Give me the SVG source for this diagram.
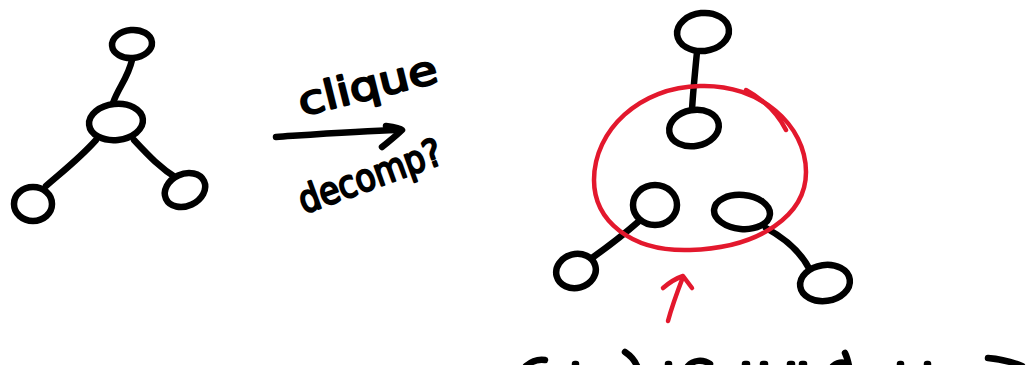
<svg xmlns="http://www.w3.org/2000/svg" width="1035" height="365" viewBox="0 0 1035 365">
  <style>
    .ink { fill: none; stroke: #000; stroke-width: 6.5; stroke-linecap: round; stroke-linejoin: round; }
    .red { fill: none; stroke: #e3182d; stroke-width: 4.5; stroke-linecap: round; stroke-linejoin: round; }
    .node { fill: #fff; stroke: #000; stroke-width: 6.5; }
    .hand { font-family: "DejaVu Sans", "Liberation Sans", sans-serif; font-weight: normal; fill: #000; stroke: #000; stroke-width: 2.2; stroke-linejoin: round; }
  </style>
  <rect width="1035" height="365" fill="#fff"/>

  <!-- edges -->
  <g id="connectors">
    <path class="ink" d="M132 60 C128 78 118 88 113 103"/>
    <path class="ink" d="M96 140 C80 158 62 172 46 186"/>
    <path class="ink" d="M134 140 C148 155 160 168 178 179"/>
    <path class="ink" d="M697 52 C695 72 693 92 692 110"/>
    <path class="ink" d="M638 222 C622 236 606 248 592 258"/>
    <path class="ink" d="M766 228 C788 240 802 254 810 270"/>
    <!-- transform arrow -->
    <path class="ink" stroke-width="7" d="M276 137 C320 134 360 131 398 130"/>
    <path class="ink" stroke-width="7" d="M386 126 C394 127 400 128 402 130 C396 136 388 142 382 147"/>
  </g>

  <!-- left graph -->
  <g id="l-top"><ellipse class="node" cx="132" cy="44" rx="20" ry="14" transform="rotate(-5 132 44)"/></g>
  <g id="l-center"><ellipse class="node" cx="116" cy="122" rx="27" ry="18" transform="rotate(-6 116 122)"/></g>
  <g id="l-left"><ellipse class="node" cx="33" cy="204" rx="19" ry="17"/></g>
  <g id="l-right"><ellipse class="node" cx="185" cy="190" rx="21" ry="16" transform="rotate(-25 185 190)"/></g>

  <!-- labels on the arrow -->
  <g id="label-clique"><text class="hand" font-size="40" transform="translate(302 116) rotate(-14)" textLength="142" lengthAdjust="spacingAndGlyphs">clique</text></g>
  <g id="label-decomp"><text class="hand" font-size="38" transform="translate(304 214) rotate(-20)" textLength="150" lengthAdjust="spacingAndGlyphs">decomp?</text></g>

  <!-- right graph -->
  <g id="r-top"><ellipse class="node" cx="703" cy="32" rx="26" ry="19" transform="rotate(-6 703 32)"/></g>
  <g id="r-mid"><ellipse class="node" cx="694" cy="128" rx="25" ry="18" transform="rotate(-10 694 128)"/></g>
  <g id="r-inner-left"><ellipse class="node" cx="655" cy="205" rx="22" ry="20"/></g>
  <g id="r-inner-right"><ellipse class="node" cx="742" cy="212" rx="28" ry="17" transform="rotate(5 742 212)"/></g>
  <g id="r-far-left"><ellipse class="node" cx="576" cy="271" rx="20" ry="17" transform="rotate(-15 576 271)"/></g>
  <g id="r-far-right"><ellipse class="node" cx="825" cy="283" rx="25" ry="18" transform="rotate(-8 825 283)"/></g>

  <!-- clique boundary and pointer -->
  <g id="clique-outline">
    <path class="red" d="M700 86 C760 84 806 125 806 172 C806 215 760 248 690 250 C630 252 594 220 594 180 C594 130 640 87 700 86 Z"/>
    <path class="red" d="M746 90 C764 100 778 114 786 130"/>
  </g>
  <g id="pointer">
    <path class="red" stroke-width="5.5" d="M668 321 C672 306 678 290 683 277"/>
    <path class="red" stroke-width="5.5" d="M663 288 C670 282 677 278 683 276 C686 280 689 284 692 288"/>
  </g>

  <!-- note running off the bottom edge -->
  <g id="note" class="ink">
    <path d="M526 366 C532 361 539 359 545 360"/>
    <path d="M575 364 L576 364"/>
    <path d="M625 352 C631 356 635 361 637 366"/>
    <path d="M668 364 L669 364"/>
    <path d="M688 366 C693 360 703 359 710 364"/>
    <path d="M745 364 L747 364"/>
    <path d="M763 364 L765 364"/>
    <path d="M790 364 L792 364"/>
    <path d="M802 364 L804 364"/>
    <path d="M833 366 C837 363 841 362 845 363"/>
    <path d="M845 353 C847 357 848 361 849 366"/>
    <path d="M900 364 L901 364"/>
    <path d="M927 364 L928 364"/>
    <path d="M988 358 C1000 359 1012 362 1022 366"/>
  </g>
</svg>
